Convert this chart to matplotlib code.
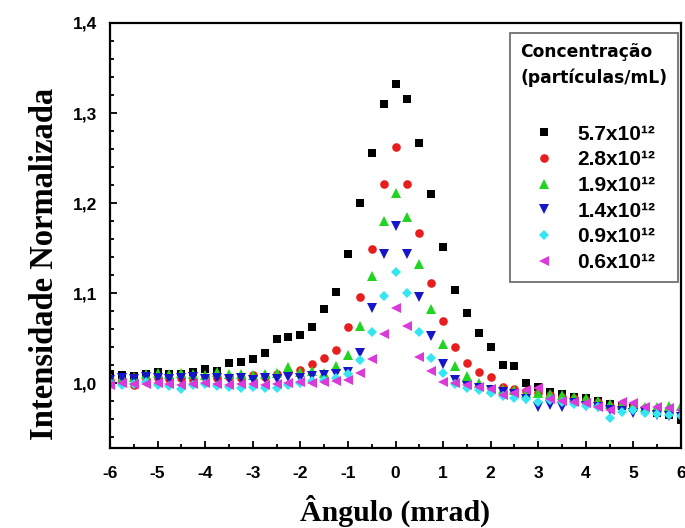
import matplotlib

matplotlib.use("Agg")

import matplotlib.pyplot as plt
from matplotlib.ticker import FixedLocator, MultipleLocator, FuncFormatter

angles = [
    -6.00, -5.75, -5.50, -5.25, -5.00, -4.75, -4.50, -4.25, -4.00, -3.75,
    -3.50, -3.25, -3.00, -2.75, -2.50, -2.25, -2.00, -1.75, -1.50, -1.25,
    -1.00, -0.75, -0.50, -0.25, 0.00, 0.25, 0.50, 0.75, 1.00, 1.25,
    1.50, 1.75, 2.00, 2.25, 2.50, 2.75, 3.00, 3.25, 3.50, 3.75,
    4.00, 4.25, 4.50, 4.75, 5.00, 5.25, 5.50, 5.75, 6.00,
]

c57 = [
    1.010, 1.009, 1.008, 1.010, 1.012, 1.010, 1.010, 1.012, 1.016, 1.013,
    1.022, 1.024, 1.027, 1.033, 1.049, 1.051, 1.054, 1.062, 1.082, 1.101,
    1.143, 1.200, 1.256, 1.310, 1.332, 1.316, 1.267, 1.210, 1.151, 1.104,
    1.078, 1.056, 1.040, 1.020, 1.019, 1.000, 0.996, 0.990, 0.988, 0.985,
    0.983, 0.980, 0.977, 0.975, 0.972, 0.970, 0.967, 0.965, 0.959,
]
c28 = [
    1.003, 1.004, 0.998, 1.003, 1.006, 1.005, 1.006, 1.004, 1.007, 1.006,
    1.007, 1.006, 1.009, 1.007, 1.010, 1.012, 1.015, 1.021, 1.028, 1.037,
    1.062, 1.096, 1.149, 1.221, 1.262, 1.221, 1.167, 1.111, 1.069, 1.040,
    1.022, 1.012, 1.007, 0.996, 0.993, 0.991, 0.989, 0.987, 0.985, 0.983,
    0.981, 0.979, 0.975, 0.976, 0.973, 0.972, 0.970, 0.968, 0.966,
]
c19 = [
    1.008, 1.006, 1.007, 1.010, 1.011, 1.010, 1.011, 1.010, 1.009, 1.012,
    1.010, 1.010, 1.009, 1.010, 1.011, 1.018, 1.012, 1.013, 1.011, 1.019,
    1.031, 1.064, 1.119, 1.180, 1.211, 1.184, 1.132, 1.082, 1.043, 1.019,
    1.008, 1.000, 0.994, 0.993, 0.992, 0.989, 0.989, 0.988, 0.987, 0.985,
    0.984, 0.980, 0.977, 0.977, 0.975, 0.974, 0.974, 0.975, 0.975,
]
c14 = [
    1.004, 1.006, 1.005, 1.007, 1.006, 1.005, 1.006, 1.007, 1.005, 1.006,
    1.005, 1.006, 1.004, 1.006, 1.005, 1.007, 1.006, 1.008, 1.009, 1.010,
    1.012, 1.033, 1.083, 1.143, 1.174, 1.144, 1.096, 1.052, 1.021, 1.004,
    0.997, 0.995, 0.992, 0.990, 0.988, 0.982, 0.973, 0.976, 0.974, 0.978,
    0.975, 0.974, 0.970, 0.969, 0.967, 0.968, 0.965, 0.964, 0.962,
]
c09 = [
    1.000, 0.998, 0.999, 1.001, 0.998, 0.997, 0.994, 0.998, 0.999, 0.997,
    0.996, 0.995, 0.996, 0.995, 0.995, 0.998, 1.000, 1.002, 1.004, 1.006,
    1.010, 1.026, 1.057, 1.097, 1.123, 1.100, 1.057, 1.028, 1.011, 0.999,
    0.995, 0.992, 0.989, 0.986, 0.984, 0.982, 0.979, 0.981, 0.979, 0.977,
    0.975, 0.973, 0.961, 0.968, 0.970, 0.967, 0.966, 0.965, 0.964,
]
c06 = [
    0.998, 1.000, 0.999, 0.999, 1.000, 0.999, 0.998, 0.999, 1.000, 0.999,
    0.998, 0.999, 0.999, 0.998, 0.999, 1.000, 1.001, 1.000, 1.001, 1.002,
    1.003, 1.011, 1.027, 1.055, 1.083, 1.063, 1.029, 1.014, 1.001, 1.000,
    0.998, 0.996, 0.993, 0.987, 0.989, 0.992, 0.995, 0.982, 0.980, 0.979,
    0.978, 0.974, 0.970, 0.979, 0.978, 0.974, 0.974, 0.972, 0.970,
]

series = [
    ("5.7x10¹²", c57, "s", "#000000", 5.8),
    ("2.8x10¹²", c28, "o", "#e81e1e", 6.2),
    ("1.9x10¹²", c19, "^", "#22d422", 7.5),
    ("1.4x10¹²", c14, "v", "#1616c8", 7.5),
    ("0.9x10¹²", c09, "D", "#33e6f2", 5.6),
    ("0.6x10¹²", c06, "<", "#d93ad9", 7.5),
]

plt.rcParams["font.family"] = ["Liberation Sans", "DejaVu Sans"]
plt.rcParams["font.weight"] = "bold"

fig = plt.figure(figsize=(6.85, 5.28), dpi=100)
ax = fig.add_axes([110 / 685, 1 - 448 / 528, 571 / 685, 425 / 528])

for label, values, marker, color, size in series:
    ax.plot(angles, values, linestyle="none", marker=marker, color=color,
            markersize=size, markeredgewidth=0, label=label)

ax.set_xlim(-6, 6)
ax.set_ylim(0.928, 1.4)
ax.xaxis.set_major_locator(MultipleLocator(1))
ax.xaxis.set_minor_locator(MultipleLocator(0.5))
ax.yaxis.set_major_locator(FixedLocator([1.0, 1.1, 1.2, 1.3, 1.4]))
ax.yaxis.set_minor_locator(MultipleLocator(0.02))
ax.yaxis.set_major_formatter(FuncFormatter(lambda v, p: f"{v:.1f}".replace(".", ",")))
ax.xaxis.set_major_formatter(FuncFormatter(lambda v, p: f"{v:.0f}"))

ax.tick_params(which="both", direction="in", top=False, right=False, width=1.3)
ax.tick_params(which="major", length=5, labelsize=12.5, pad=9)
ax.tick_params(which="minor", length=3)
ax.tick_params(axis="x", which="major", pad=13)
for spine in ax.spines.values():
    spine.set_linewidth(1.6)

ax.set_xlabel("Ângulo (mrad)", family="Liberation Serif", fontsize=21.5,
              fontweight="bold", labelpad=10)
ax.set_ylabel("Intensidade Normalizada", family="Liberation Serif", fontsize=23.5,
              fontweight="bold")
ax.yaxis.set_label_coords(-0.087, 0.433)

leg = ax.legend(
    title="Concentração\n(partículas/mL)",
    loc="upper left",
    bbox_to_anchor=(510 / 685, 1 - 33 / 528),
    bbox_transform=fig.transFigure,
    borderaxespad=0,
    frameon=True,
    fancybox=False,
    edgecolor="#707070",
    framealpha=1,
    prop={"family": "Liberation Sans", "size": 15, "weight": "bold"},
    title_fontproperties={"family": "DejaVu Sans", "size": 12.3, "weight": "bold"},
    alignment="left",
    handlelength=2.3,
    handletextpad=0.43,
    labelspacing=0.32,
    borderpad=0.5,
)
leg.get_title().set_linespacing(1.5)
# extra room between the two-line title and the entries
leg._legend_box.sep = 27
leg.get_frame().set_linewidth(1.3)

fig.savefig("out.png", dpi=100)
